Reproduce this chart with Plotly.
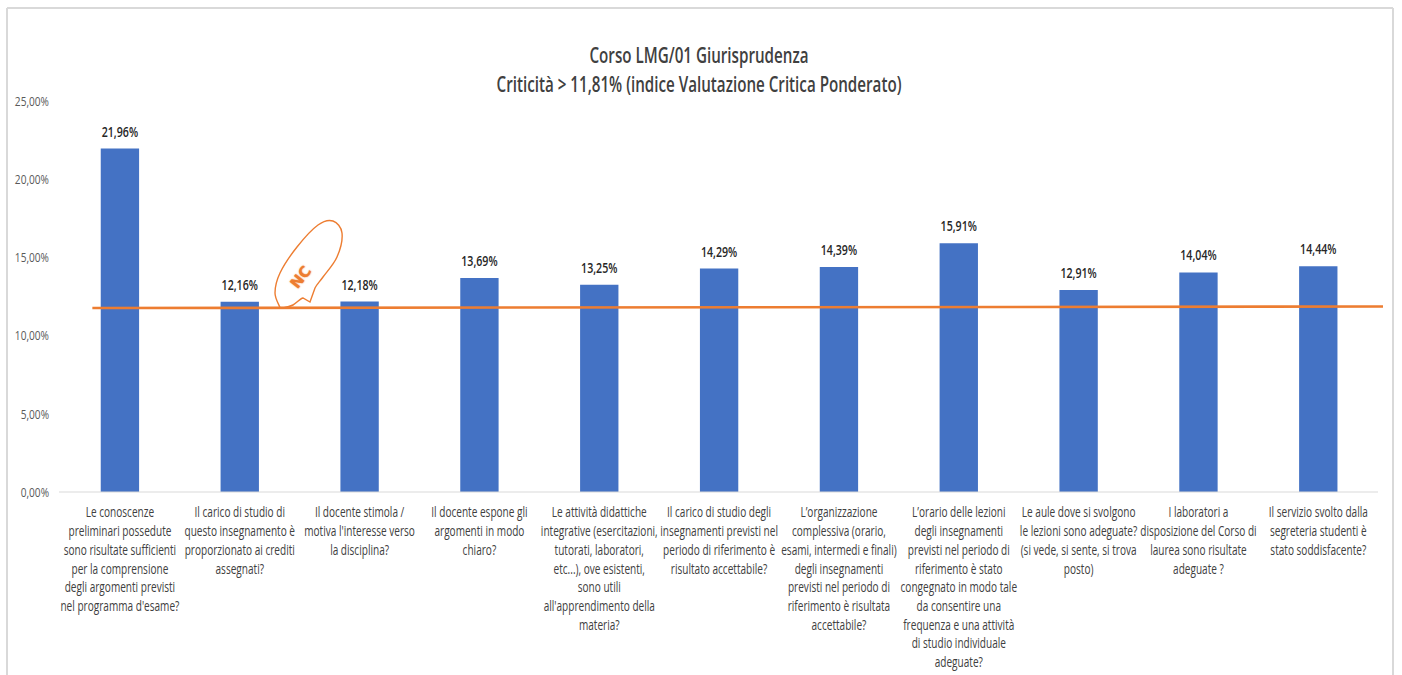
import plotly.graph_objects as go

categories = [
    "Le conoscenze<br>preliminari possedute<br>sono risultate sufficienti<br>per la comprensione<br>degli argomenti previsti<br>nel programma d'esame?",
    "Il carico di studio di<br>questo insegnamento è<br>proporzionato ai crediti<br>assegnati?",
    "Il docente stimola /<br>motiva l'interesse verso<br>la disciplina?",
    "Il docente espone gli<br>argomenti in modo<br>chiaro?",
    "Le attività didattiche<br>integrative (esercitazioni,<br>tutorati, laboratori,<br>etc...), ove esistenti,<br>sono utili<br>all'apprendimento della<br>materia?",
    "Il carico di studio degli<br>insegnamenti previsti nel<br>periodo di riferimento è<br>risultato accettabile?",
    "L’organizzazione<br>complessiva (orario,<br>esami, intermedi e finali)<br>degli insegnamenti<br>previsti nel periodo di<br>riferimento è risultata<br>accettabile?",
    "L’orario delle lezioni<br>degli insegnamenti<br>previsti nel periodo di<br>riferimento è stato<br>congegnato in modo tale<br>da consentire una<br>frequenza e una attività<br>di studio individuale<br>adeguate?",
    "Le aule dove si svolgono<br>le lezioni sono adeguate?<br>(si vede, si sente, si trova<br>posto)",
    "I laboratori a<br>disposizione del Corso di<br>laurea sono risultate<br>adeguate ?",
    "Il servizio svolto dalla<br>segreteria studenti è<br>stato soddisfacente?",
]
values = [21.96, 12.16, 12.18, 13.69, 13.25, 14.29, 14.39, 15.91, 12.91, 14.04, 14.44]
threshold_x = [-0.23, 10.54]
threshold_y = [11.76, 11.86]
y_ticks = [0, 5, 10, 15, 20, 25]
title_text = "Corso LMG/01 Giurisprudenza<br>Criticità > 11,81% (indice Valutazione Critica Ponderato)"

W, H = 1402, 675
L, R, T, B = 60, 1383, 101, 492
FONT = "Open Sans, sans-serif"


def fmt(v):
    return f"{v:.2f}".replace(".", ",") + "%"


def px(x):
    return (x - L) / (R - L)


def py(y):
    return (B - y) / (B - T)


fig = go.Figure()
fig.add_bar(
    x=list(range(len(values))),
    y=values,
    width=0.32,
    marker=dict(color="#4472C4", line=dict(width=0)),
    text=[fmt(v) for v in values],
    textposition="outside",
    constraintext="none",
    cliponaxis=False,
    textfont=dict(family=FONT, size=14, color="#262626", weight=600),
    hoverinfo="skip",
)
fig.add_scatter(
    x=threshold_x,
    y=threshold_y,
    mode="lines",
    line=dict(color="#ED7D31", width=2.6),
    cliponaxis=False,
    hoverinfo="skip",
)

balloon = [(280, 307.5), (275, 293), (280, 273), (297, 247), (318, 225), (333, 221),
           (342, 233), (337, 257), (323, 277), (315, 288), (310, 302), (303, 298),
           (293, 305), (283, 308), (280, 307.5)]
sharp = {10, 11}
path = "M{:.5f},{:.5f}".format(px(balloon[0][0]), py(balloon[0][1]))
for i in range(1, len(balloon)):
    p0 = balloon[max(i - 2, 0)]
    p1 = balloon[i - 1]
    p2 = balloon[i]
    p3 = balloon[min(i + 1, len(balloon) - 1)]
    if i in sharp:
        path += " L{:.5f},{:.5f}".format(px(p2[0]), py(p2[1]))
    else:
        c1 = (p1[0] + (p2[0] - p0[0]) / 6, p1[1] + (p2[1] - p0[1]) / 6)
        c2 = (p2[0] - (p3[0] - p1[0]) / 6, p2[1] - (p3[1] - p1[1]) / 6)
        path += " C{:.5f},{:.5f} {:.5f},{:.5f} {:.5f},{:.5f}".format(
            px(c1[0]), py(c1[1]), px(c2[0]), py(c2[1]), px(p2[0]), py(p2[1]))

frame = dict(type="line", xref="paper", yref="paper", line=dict(color="#D9D9D9", width=2))
fig.update_layout(
    width=W,
    height=H,
    margin=dict(l=L, r=W - R, t=T, b=H - B, autoexpand=False),
    paper_bgcolor="white",
    plot_bgcolor="white",
    showlegend=False,
    font=dict(family=FONT, color="#404040"),
    title=dict(
        text=title_text,
        x=699 / W,
        xanchor="center",
        y=1 - 63 / H,
        yanchor="middle",
        font=dict(family=FONT, size=22, color="#404040", weight=600),
    ),
    xaxis=dict(
        range=[-0.5, 10.54],
        tickmode="array",
        tickvals=list(range(len(categories))),
        ticktext=categories,
        tickangle=0,
        ticks="",
        ticklabelstandoff=10,
        showgrid=False,
        zeroline=False,
        showline=False,
        tickfont=dict(family=FONT, size=14.4, color="#404040", weight=500),
    ),
    yaxis=dict(
        range=[0, 25],
        tickmode="array",
        tickvals=y_ticks,
        ticktext=[fmt(v) for v in y_ticks],
        ticklabelstandoff=10,
        showgrid=False,
        zeroline=False,
        showline=False,
        ticks="",
        tickfont=dict(family=FONT, size=13.5, color="#595959"),
    ),
    shapes=[
        dict(type="line", xref="paper", yref="paper", x0=px(59), x1=px(1378), y0=0, y1=0,
             line=dict(color="#D9D9D9", width=1)),
        dict(frame, x0=px(7), x1=px(7), y0=py(675), y1=py(8)),
        dict(frame, x0=px(7), x1=px(1393), y0=py(8), y1=py(8)),
        dict(frame, x0=px(1393), x1=px(1393), y0=py(675), y1=py(8)),
        dict(type="path", xref="paper", yref="paper", path=path,
             line=dict(color="#ED7D31", width=1.4)),
    ],
    annotations=[
        dict(text="<b>NC</b>", xref="paper", yref="paper", x=px(301), y=py(277),
             xanchor="center", yanchor="middle",
             showarrow=False, textangle=-52,
             font=dict(family="DejaVu Sans", size=15, color="#ED7D31",
                       shadow="0 0 1.5px #ED7D31")),
    ],
)

# The reference's lettering is condensed and no narrow font is installed:
# squeeze the text horizontally around its own anchor once Plotly has drawn it.
squeeze = """
function squeeze(sel, s, dy) {
  document.querySelectorAll(sel).forEach(function (t) {
    var cx = parseFloat(t.getAttribute('x')) || 0;
    var old = t.getAttribute('transform') || '';
    t.setAttribute('transform', old + ' translate(' + cx + ',' + (dy || 0) + ') scale(' + s + ',1) translate(' + (-cx) + ',0)');
  });
}
squeeze('.xtick text', 0.70);
squeeze('.ytick text', 0.75);
squeeze('.gtitle', 0.69);
squeeze('.bartext', 0.76, -5);
document.body.style.margin = '0';
"""
fig.write_html("out.html", config=dict(displayModeBar=False), post_script=squeeze)
